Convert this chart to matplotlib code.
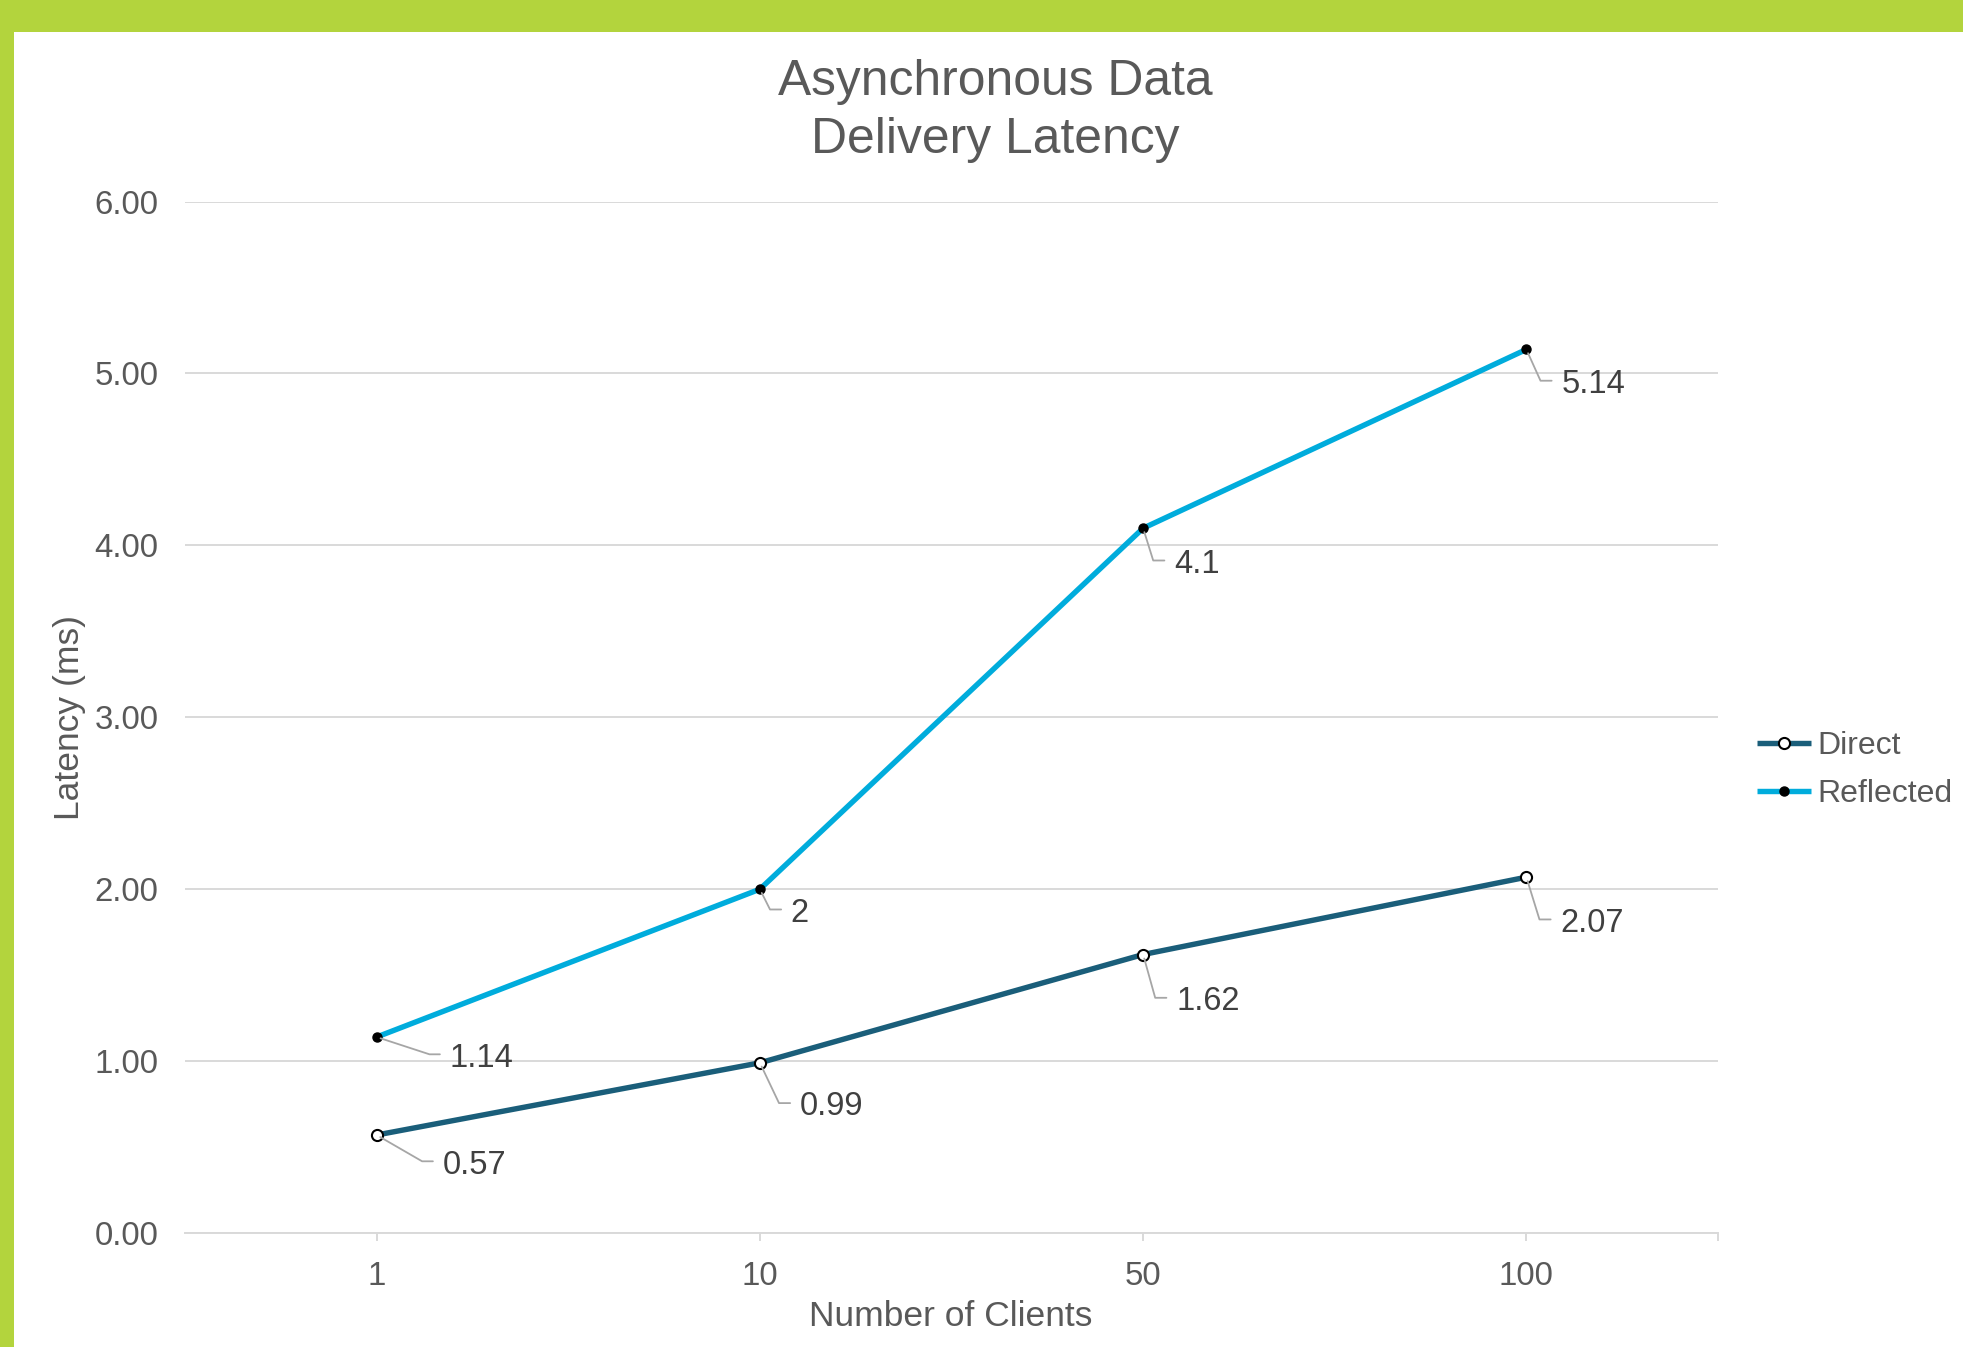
import math
import matplotlib
matplotlib.use("Agg")
import matplotlib.pyplot as plt
from matplotlib.patches import Rectangle

plt.rcParams['font.family'] = ['Liberation Sans', 'DejaVu Sans']

# data
clients = ["1", "10", "50", "100"]
direct = [0.57, 0.99, 1.62, 2.07]
reflected = [1.14, 2, 4.1, 5.14]
yticks = [0, 1, 2, 3, 4, 5, 6]

# label offsets from each point, in pixels (right, down)
direct_offsets = [(66, 26), (40, 40), (33, 43), (34, 42)]
reflected_offsets = [(73, 17), (31, 20), (31, 32), (35, 31)]

DIRECT_C = "#1a5e7a"
REFLECT_C = "#00acdc"
TEXT_C = "#595959"
LABEL_C = "#404040"
GRID_C = "#d9d9d9"
LEADER_C = "#a6a6a6"
GREEN = "#b3d43d"

fig = plt.figure(figsize=(19.63, 13.47), dpi=100)
fig.patch.set_facecolor("white")

# green frame strips
fig.patches.append(Rectangle((0, 1 - 32 / 1347), 1, 32 / 1347, transform=fig.transFigure,
                             facecolor=GREEN, edgecolor="none"))
fig.patches.append(Rectangle((0, 0), 14 / 1963, 1, transform=fig.transFigure,
                             facecolor=GREEN, edgecolor="none"))

ax = fig.add_axes([185 / 1963, 1 - 1233 / 1347, (1718 - 185) / 1963, (1233 - 201.6) / 1347])

x = list(range(len(clients)))
ax.plot(x, direct, color=DIRECT_C, lw=3.9, marker="o", ms=8, mfc="white", mec="black",
        mew=1.5, label="Direct", zorder=4, solid_capstyle="butt")
ax.plot(x, reflected, color=REFLECT_C, lw=3.9, marker="o", ms=6.5, mfc="black", mec="black",
        mew=1.0, label="Reflected", zorder=4, solid_capstyle="butt")


def label_points(values, offsets):
    # text sits lower right of the point, joined by an elbow leader line
    for xi, v, (dx, dy) in zip(x, values, offsets):
        corner_dx = dx - 21
        ang = math.degrees(math.atan2(-dy, corner_dx))
        ax.annotate(f"{v:g}", xy=(xi, v), xytext=(dx, -dy - 4), textcoords="offset pixels",
                    ha="left", va="center", fontsize=23.5, color=LABEL_C, zorder=5,
                    arrowprops=dict(arrowstyle="-", color=LEADER_C, lw=1.3,
                                    shrinkA=5, shrinkB=3, relpos=(0, 0.62),
                                    connectionstyle=f"angle,angleA=0,angleB={ang},rad=0"))


label_points(direct, direct_offsets)
label_points(reflected, reflected_offsets)

ax.set_xlim(-0.5, 3.5)
ax.set_ylim(0, 6)
ax.set_yticks(yticks)
ax.set_yticklabels([f"{t:.2f}" for t in yticks])
ax.set_xticks(x)
ax.set_xticklabels(clients)
ax.set_xticks([3.5], minor=True)
ax.grid(axis="y", color=GRID_C, lw=1.4)
ax.set_axisbelow(True)
for s in ["top", "right", "left"]:
    ax.spines[s].set_visible(False)
ax.spines["bottom"].set_color(GRID_C)
ax.spines["bottom"].set_linewidth(1.4)
ax.tick_params(axis="y", length=0, pad=19, labelsize=23.8, labelcolor=TEXT_C)
ax.tick_params(axis="x", which="both", length=6, width=1.4, color=GRID_C, pad=14,
               labelsize=23.8, labelcolor=TEXT_C)

fig.text(995 / 1963, 1 - 111 / 1347, "Asynchronous Data\nDelivery Latency", ha="center",
         va="center", fontsize=35.8, color=TEXT_C, linespacing=1.34)
fig.text(69 / 1963, 1 - 717 / 1347, "Latency (ms)", rotation=90, ha="center", va="center",
         fontsize=25.5, color=TEXT_C)
fig.text(951 / 1963, 1 - 1317 / 1347, "Number of Clients", ha="center", va="center",
         fontsize=25.5, color=TEXT_C)

leg = ax.legend(loc="center left", bbox_to_anchor=(1757 / 1963, 1 - 770 / 1347),
                bbox_transform=fig.transFigure, frameon=False, fontsize=23,
                handlelength=1.7, handletextpad=0.2, labelspacing=0.55,
                borderpad=0, borderaxespad=0)
for t in leg.get_texts():
    t.set_color(TEXT_C)

fig.savefig("out.png", dpi=100)
